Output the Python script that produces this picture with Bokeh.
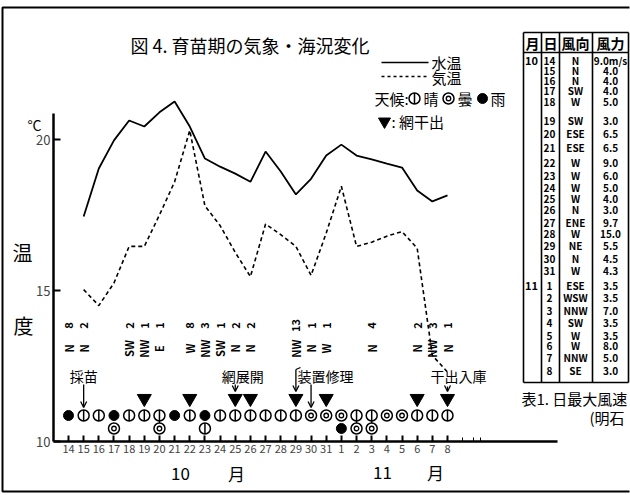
import math
from bokeh.plotting import figure
from bokeh.models import Range1d, FixedTicker, Arrow, OpenHead, LinearAxis
from bokeh.core.properties import value
from bokeh.embed import file_html
from bokeh.resources import INLINE

# ---------------- data ----------------
tick_labels = ["14", "15", "16", "17", "18", "19", "20", "21", "22", "23", "24", "25", "26",
               "27", "28", "29", "30", "31", "1", "2", "3", "4", "5", "6", "7", "8"]
y_ticks = [10, 15, 20]
x_minor_ticks = [26, 26.7, 27.2]

water_days = list(range(1, 26))
water_temp = [17.45, 19.04, 19.97, 20.63, 20.43, 20.9, 21.26, 20.43, 19.37, 19.1, 18.87, 18.6,
              19.6, 18.94, 18.18, 18.7, 19.47, 19.83, 19.47, 19.34, 19.2, 19.07, 18.31, 17.95, 18.15]

air_days = list(range(1, 26))
air_temp = [15.03, 14.5, 15.25, 16.46, 16.46, 17.5, 18.6, 20.3, 17.8, 17.15, 16.26, 15.46,
            17.2, 16.85, 16.46, 15.5, 16.9, 18.45, 16.46, 16.6, 16.8, 16.95, 16.4, 12.85, 12.3]

# weather: main symbol per day (14 Oct .. 8 Nov) and a second symbol on some days
weather_main = ["rain", "clear", "clear", "rain", "clear", "clear", "clear", "rain", "clear",
                "rain", "clear", "clear", "clear", "clear", "clear", "clear", "cloudy", "cloudy",
                "cloudy", "clear", "clear", "cloudy", "cloudy", "clear", "clear", "clear"]
weather_second = {3: "cloudy", 6: "cloudy", 9: "clear", 18: "rain", 19: "cloudy", 20: "cloudy"}
weather_linked = [6, 19, 20]

net_dry_days = [5, 8, 11, 12, 15, 17, 23, 25]

wind_days = [0, 1, 4, 5, 6, 8, 9, 10, 11, 12, 15, 16, 17, 20, 23, 24, 25]
wind_force_obs = ["8", "2", "2", "1", "1", "8", "3", "1", "2", "2", "13", "1", "1", "4", "2", "3", "1"]
wind_dir_obs = ["N", "N", "SW", "NW", "E", "W", "NW", "SW", "N", "N", "NW", "N", "W", "N", "N", "NW", "N"]

table_month = ["10"] + [""] * 17 + ["11"] + [""] * 7
table_day = ["14", "15", "16", "17", "18", "19", "20", "21", "22", "23", "24", "25", "26",
             "27", "28", "29", "30", "31", "1", "2", "3", "4", "5", "6", "7", "8"]
table_dir = ["N", "N", "N", "SW", "W", "SW", "ESE", "ESE", "W", "W", "W", "W", "N",
             "ENE", "W", "NE", "N", "W", "ESE", "WSW", "NNW", "SW", "W", "W", "NNW", "SE"]
table_force = ["9.0m/s", "4.0", "4.0", "4.0", "5.0", "3.0", "6.5", "6.5", "9.0", "6.0", "5.0", "4.0", "3.0",
               "9.7", "15.0", "5.5", "4.5", "4.3", "3.5", "3.5", "7.0", "3.5", "3.5", "8.0", "5.0", "3.0"]

# ---------------- layout helpers (pixel -> data) ----------------
PXD = 15.16      # px per day
PXT = 30.2       # px per degree
X_AXIS_PX, Y_AXIS_PX = 53, 441


def sx(px):
    return (px - 68) / PXD


def sy(py):
    return 10 + (Y_AXIS_PX - py) / PXT


JP = "Noto Sans CJK JP"
fontv = value(JP)

p = figure(width=630, height=495, x_range=Range1d(sx(0), sx(630)), y_range=Range1d(sy(495), sy(0)),
           output_backend="svg", toolbar_location=None, title=None, x_axis_type=None, y_axis_type=None,
           min_border_left=0, min_border_bottom=0, min_border_top=0, min_border_right=0)
p.outline_line_color = None
p.xgrid.visible = False
p.ygrid.visible = False
p.background_fill_color = "white"
p.border_fill_color = "white"

# axes (fixed inside the frame)
yax = LinearAxis(fixed_location=sx(X_AXIS_PX), ticker=FixedTicker(ticks=y_ticks))
yax.bounds = (10, sy(113))
yax.major_tick_in = 7
yax.major_tick_out = 0
yax.minor_tick_line_color = None
yax.axis_line_width = 2.5
yax.axis_line_color = "#000000"
yax.major_tick_line_color = "#000000"
yax.major_tick_line_width = 2
yax.major_label_text_font = JP
yax.major_label_text_font_size = "13px"
yax.major_label_standoff = 3
p.add_layout(yax, "left")

xax = LinearAxis(fixed_location=10,
                 ticker=FixedTicker(ticks=list(range(len(tick_labels))), minor_ticks=x_minor_ticks))
xax.major_label_overrides = {i: t for i, t in enumerate(tick_labels)}
xax.bounds = (sx(X_AXIS_PX), sx(557))
xax.major_tick_in = 6
xax.major_tick_out = 0
xax.minor_tick_in = 4
xax.minor_tick_out = 0
xax.axis_line_width = 2.5
xax.axis_line_color = "#000000"
xax.major_tick_line_color = "#000000"
xax.minor_tick_line_color = "#000000"
xax.major_tick_line_width = 2
xax.major_label_text_font = JP
xax.major_label_text_font_size = "11px"
xax.major_label_standoff = 3
p.add_layout(xax, "below")

# page border (top, left, bottom edges)
p.line([sx(629), sx(2), sx(2), sx(629)], [sy(7), sy(7), sy(491), sy(491)], line_color="black", line_width=2)

# temperature lines
p.line(water_days, water_temp, line_color="black", line_width=1.8)
p.line(air_days, air_temp, line_color="black", line_width=1.6, line_dash="4 3")

# weather symbols
Y_MAIN, Y_SEC = sy(415), sy(428)


def draw_symbol(xs, y, kind):
    if not xs:
        return
    ys = [y] * len(xs)
    if kind == "rain":
        p.scatter(xs, ys, marker="circle", size=10, fill_color="black", line_color="black")
    elif kind == "clear":
        p.scatter(xs, ys, marker="circle", size=11, fill_color="white", line_color="black", line_width=1.5)
        p.scatter(xs, ys, marker="dash", size=11, angle=math.pi / 2, line_color="black", line_width=1.5)
    else:
        p.scatter(xs, ys, marker="circle", size=11, fill_color="white", line_color="black", line_width=1.5)
        p.scatter(xs, ys, marker="circle", size=4.5, fill_color="white", line_color="black", line_width=1.3)


p.segment(x0=weather_linked, y0=[Y_MAIN] * len(weather_linked), x1=weather_linked,
          y1=[Y_SEC] * len(weather_linked), line_color="black", line_width=1.3)
for kind in ["clear", "cloudy", "rain"]:
    draw_symbol([i for i, w in enumerate(weather_main) if w == kind], Y_MAIN, kind)
    draw_symbol([i for i, w in weather_second.items() if w == kind], Y_SEC, kind)

# net drying triangles
p.scatter(net_dry_days, [sy(398)] * len(net_dry_days), marker="inverted_triangle", size=14,
          fill_color="black", line_color="black")

# wind observation labels (rotated)
p.text(wind_days, [sy(325)] * len(wind_days), text=wind_force_obs, angle=math.pi / 2,
       text_font=fontv, text_font_size="11px", text_font_style="bold",
       text_align="center", text_baseline="middle")
p.text(wind_days, [sy(348)] * len(wind_days), text=wind_dir_obs, angle=math.pi / 2,
       text_font=fontv, text_font_size="11px", text_font_style="bold",
       text_align="center", text_baseline="middle")

# event labels and arrows
p.text([1, 11.5, sx(325), sx(458)], [sy(375)] * 4, text=["採苗", "網展開", "装置修理", "干出入庫"],
       text_font=fontv, text_font_size="14px", text_align="center", text_baseline="middle")


def arrow(x, y0, y1):
    p.add_layout(Arrow(end=OpenHead(size=6, line_width=1.3), x_start=x, y_start=sy(y0),
                       x_end=x, y_end=sy(y1), line_width=1.3, line_color="black"))


arrow(1, 384, 407)
arrow(11, 384, 391)
arrow(15, 369, 391)
arrow(16, 384, 407)
arrow(25, 386, 391)
p.segment(x0=[15], y0=[sy(369)], x1=[sx(300)], y1=[sy(367)], line_color="black", line_width=1.3)

# title and legend
p.text([sx(130)], [sy(44)], text=["図 4.  育苗期の気象・海況変化"], text_font=fontv,
       text_font_size="18px", text_align="left", text_baseline="middle")
p.segment(x0=[sx(381)], y0=[sy(62)], x1=[sx(428)], y1=[sy(62)], line_color="black", line_width=1.6)
p.segment(x0=[sx(381)], y0=[sy(76)], x1=[sx(428)], y1=[sy(76)], line_color="black", line_width=1.5,
          line_dash="3 3")
p.text([sx(431), sx(431), sx(374), sx(423), sx(457), sx(490)],
       [sy(62), sy(77), sy(98), sy(98), sy(98), sy(98)],
       text=["水温", "気温", "天候:", "晴", "曇", "雨"], text_font=fontv, text_font_size="15px",
       text_align="left", text_baseline="middle")
draw_symbol([sx(414)], sy(98), "clear")
draw_symbol([sx(448)], sy(98), "cloudy")
draw_symbol([sx(482)], sy(98), "rain")
p.scatter([sx(384)], [sy(121)], marker="inverted_triangle", size=12, fill_color="black", line_color="black")
p.text([sx(391)], [sy(121)], text=[": 網干出"], text_font=fontv, text_font_size="15px",
       text_align="left", text_baseline="middle")

# wind table
ROW_Y = [60, 70, 80, 90, 101, 120, 133, 147, 162, 175, 187, 198, 209, 222, 233, 245, 258, 270,
         285, 297, 310, 322, 335, 345, 357, 370]
VX = [523, 541, 559, 592, 628]
p.segment(x0=[sx(v) for v in VX], y0=[sy(32)] * len(VX), x1=[sx(v) for v in VX], y1=[sy(382)] * len(VX),
          line_color="black", line_width=1.6)
p.segment(x0=[sx(523)] * 3, y0=[sy(32), sy(52), sy(382)], x1=[sx(628)] * 3, y1=[sy(32), sy(52), sy(382)],
          line_color="black", line_width=1.6)
p.text([sx(532), sx(550), sx(575), sx(610)], [sy(42)] * 4, text=["月", "日", "風向", "風力"],
       text_font=fontv, text_font_size="14px", text_font_style="bold", text_align="center",
       text_baseline="middle")
ry = [sy(v) for v in ROW_Y]
p.text([sx(531)] * len(ry), ry, text=table_month, text_font=fontv, text_font_size="11px",
       text_font_style="bold", text_align="center", text_baseline="middle")
p.text([sx(549)] * len(ry), ry, text=table_day, text_font=fontv, text_font_size="10px",
       text_font_style="bold", text_align="center", text_baseline="middle")
p.text([sx(575)] * len(ry), ry, text=table_dir, text_font=fontv, text_font_size="10px",
       text_font_style="bold", text_align="center", text_baseline="middle")
p.text([sx(610)] * len(ry), ry, text=table_force, text_font=fontv, text_font_size="10px",
       text_font_style="bold", text_align="center", text_baseline="middle")
p.text([sx(521), sx(589)], [sy(398), sy(417)], text=["表1. 日最大風速", "(明石"],
       text_font=fontv, text_font_size="15px", text_align="left", text_baseline="middle")

# side labels
p.text([sx(34), sx(22), sx(23)], [sy(124), sy(252), sy(325)], text=["°C", "温", "度"],
       text_font=fontv, text_font_size=["14px", "20px", "20px"], text_align="center", text_baseline="middle")
p.text([sx(180), sx(236), sx(382), sx(435)], [sy(473), sy(473), sy(472), sy(472)],
       text=["10", "月", "11", "月"], text_font=fontv, text_font_size="17px",
       text_align="center", text_baseline="middle")

open("out.html", "w").write(file_html(p, INLINE))
